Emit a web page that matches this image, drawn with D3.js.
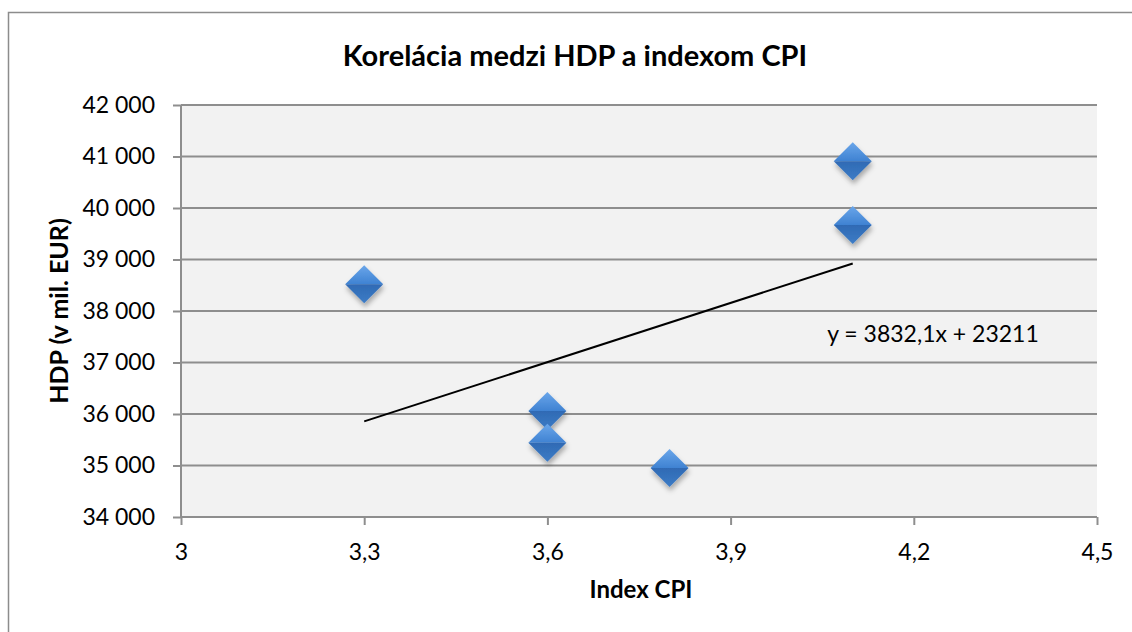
<!DOCTYPE html>
<html>
<head>
<meta charset="utf-8">
<script src="https://cdn.jsdelivr.net/npm/d3@7"></script>
<style>
  body { margin: 0; background: #fff; }
  text { font-family: Lato, "Open Sans", sans-serif; fill: #000; }
</style>
</head>
<body>
<div id="chart"></div>
<script>
// Data
var cpiValues = [3.3, 3.6, 3.6, 3.8, 4.1, 4.1];
var hdpValues = [38520, 36060, 35440, 34950, 40910, 39670];
var xTicks = [3, 3.3, 3.6, 3.9, 4.2, 4.5];
var yTicks = [34000, 35000, 36000, 37000, 38000, 39000, 40000, 41000, 42000];
var trendSlope = 3832.1;
var trendIntercept = 23211;
var trendRange = [3.3, 4.1];
var equationLabel = "y = 3832,1x + 23211";

var svgWidth = 1132;
var svgHeight = 632;

var margin = { top: 105, bottom: 115, right: 35, left: 181 };
var width = 1097 - margin.left;
var height = 517 - margin.top;

var svg = d3.select("#chart")
  .append("svg")
  .attr("width", svgWidth)
  .attr("height", svgHeight);

// outer chart border
svg.append("rect")
  .attr("x", 8.5).attr("y", 12.5)
  .attr("width", 1130).attr("height", 640)
  .attr("fill", "none")
  .attr("stroke", "#8c8c8c")
  .attr("stroke-width", 1.5);

var defs = svg.append("defs");
var shadow = defs.append("filter").attr("id", "shadow")
  .attr("x", "-50%").attr("y", "-50%").attr("width", "200%").attr("height", "200%");
shadow.append("feDropShadow")
  .attr("dx", 1).attr("dy", 4).attr("stdDeviation", 2.5)
  .attr("flood-color", "#000").attr("flood-opacity", 0.3);

var gTop = defs.append("linearGradient").attr("id", "gTop")
  .attr("x1", 0).attr("y1", 0).attr("x2", 0).attr("y2", 1);
gTop.append("stop").attr("offset", "0%").attr("stop-color", "#6aa6ea");
gTop.append("stop").attr("offset", "100%").attr("stop-color", "#3f82d2");
var gBot = defs.append("linearGradient").attr("id", "gBot")
  .attr("x1", 0).attr("y1", 0).attr("x2", 0).attr("y2", 1);
gBot.append("stop").attr("offset", "0%").attr("stop-color", "#2f6ab4");
gBot.append("stop").attr("offset", "100%").attr("stop-color", "#3d7cc6");

var chartGroup = svg.append("g")
  .attr("transform", `translate(${margin.left}, ${margin.top})`);

var xScale = d3.scaleLinear().domain([3, 4.5]).range([0, width]);
var yScale = d3.scaleLinear().domain([34000, 42000]).range([height, 0]);

var fmtX = function(d) { return d3.format(".1~f")(d).replace(".", ","); };
var fmtY = function(d) { return d3.format(",")(d).replace(",", " "); };

// plot area background
chartGroup.append("rect")
  .attr("width", width).attr("height", height)
  .attr("fill", "#f2f2f2");

// gridlines
chartGroup.selectAll(".grid")
  .data(yTicks)
  .enter()
  .append("line")
  .attr("x1", 0).attr("x2", width)
  .attr("y1", d => yScale(d)).attr("y2", d => yScale(d))
  .attr("stroke", "#8e8e8e")
  .attr("stroke-width", 2);

// axes
var yAxis = d3.axisLeft(yScale).tickValues(yTicks).tickSize(8).tickPadding(18).tickFormat(fmtY);
var xAxis = d3.axisBottom(xScale).tickValues(xTicks).tickSize(8).tickPadding(18).tickFormat(fmtX);

var yG = chartGroup.append("g").call(yAxis);
var xG = chartGroup.append("g").attr("transform", `translate(0, ${height})`).call(xAxis);

[yG, xG].forEach(function(g) {
  g.select(".domain").attr("stroke", "#8e8e8e").attr("stroke-width", 2);
  g.selectAll(".tick line").attr("stroke", "#8e8e8e").attr("stroke-width", 2);
  g.selectAll(".tick text")
    .attr("font-family", "Lato, sans-serif")
    .attr("font-size", "23px")
    .attr("fill", "#000");
});
yG.select(".domain").attr("d", `M0,${height}V0`);
xG.select(".domain").attr("d", `M0,0H${width}`);
xG.selectAll(".tick text").attr("dy", "0.75em");

// trendline
chartGroup.append("line")
  .attr("x1", xScale(trendRange[0]))
  .attr("y1", yScale(trendSlope * trendRange[0] + trendIntercept))
  .attr("x2", xScale(trendRange[1]))
  .attr("y2", yScale(trendSlope * trendRange[1] + trendIntercept))
  .attr("stroke", "#000")
  .attr("stroke-width", 2);

// diamond markers
var r = 19;
var points = cpiValues.map(function(c, i) { return { x: c, y: hdpValues[i] }; });
var marks = chartGroup.selectAll(".pt")
  .data(points)
  .enter()
  .append("g")
  .attr("transform", d => `translate(${xScale(d.x)}, ${yScale(d.y)})`)
  .attr("filter", "url(#shadow)");

marks.append("path")
  .attr("d", `M${-r},0L0,${-r}L${r},0Z`)
  .attr("fill", "url(#gTop)");
marks.append("path")
  .attr("d", `M${-r},0L${r},0L0,${r}Z`)
  .attr("fill", "url(#gBot)");

// equation label
chartGroup.append("text")
  .attr("x", 933 - margin.left)
  .attr("y", 342 - margin.top)
  .attr("text-anchor", "middle")
  .attr("font-size", "23px")
  .text(equationLabel);

// title
svg.append("text")
  .attr("x", 575)
  .attr("y", 66)
  .attr("text-anchor", "middle")
  .attr("font-size", "29px")
  .attr("font-weight", "bold")
  .text("Korelácia medzi HDP a indexom CPI");

// axis titles
svg.append("text")
  .attr("x", 641)
  .attr("y", 598)
  .attr("text-anchor", "middle")
  .attr("font-size", "24px")
  .attr("font-weight", "bold")
  .text("Index CPI");

svg.append("text")
  .attr("transform", "translate(68, 311) rotate(-90)")
  .attr("text-anchor", "middle")
  .attr("font-size", "25px")
  .attr("font-weight", "bold")
  .text("HDP (v mil. EUR)");
</script>
</body>
</html>
